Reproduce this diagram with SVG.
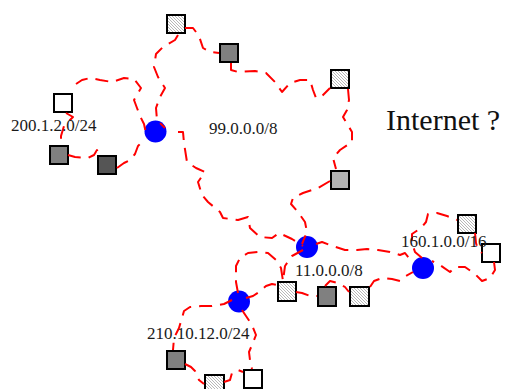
<svg xmlns="http://www.w3.org/2000/svg" width="506" height="389" viewBox="0 0 506 389">
<defs>
<pattern id="hatch" width="3" height="3" patternUnits="userSpaceOnUse">
<rect width="3" height="3" fill="#fff"/>
<path d="M-1,-1 L4,4 M-1,2 L1,4 M2,-1 L4,1" stroke="#999" stroke-width="0.7"/>
</pattern>
</defs>
<style>
.sq{stroke:#000;stroke-width:2}
.white{fill:#fff}
.hatch{fill:url(#hatch)}
.gray{fill:#808080}
.dark{fill:#555}
.light{fill:#b3b3b3}
.router{fill:#0000ff}
.link{fill:none;stroke:#ff0000;stroke-width:2;stroke-dasharray:13 8;stroke-linejoin:round;stroke-linecap:butt}
.lbl{font-family:"Liberation Serif","Times New Roman",serif;font-size:17px;fill:#1a1a1a}
.big{font-family:"Liberation Serif","Times New Roman",serif;font-size:30px;fill:#111}
</style>
<rect width="506" height="389" fill="#fff"/>

<g id="router-a"><circle class="router" cx="155.5" cy="131.5" r="11"/></g>
<g id="router-b"><circle class="router" cx="307" cy="247" r="11"/></g>
<g id="router-c"><circle class="router" cx="423" cy="268" r="11"/></g>
<g id="router-d"><circle class="router" cx="239" cy="301.5" r="11"/></g>

<g id="host-1"><rect class="sq hatch" x="167" y="15" width="18" height="18"/></g>
<g id="host-2"><rect class="sq gray" x="220" y="44" width="18" height="18"/></g>
<g id="host-3"><rect class="sq hatch" x="331" y="70" width="18" height="18"/></g>
<g id="host-4"><rect class="sq light" x="331" y="171" width="18" height="18"/></g>
<g id="host-5"><rect class="sq white" x="54" y="94" width="18" height="18"/></g>
<g id="host-6"><rect class="sq gray" x="50" y="146" width="18" height="18"/></g>
<g id="host-7"><rect class="sq dark" x="98" y="156" width="18" height="18"/></g>
<g id="host-8"><rect class="sq hatch" x="278" y="282" width="18" height="19"/></g>
<g id="host-9"><rect class="sq gray" x="318" y="287" width="18" height="19"/></g>
<g id="host-10"><rect class="sq hatch" x="350" y="287" width="19" height="19"/></g>
<g id="host-11"><rect class="sq hatch" x="458" y="215" width="18" height="18"/></g>
<g id="host-12"><rect class="sq white" x="482" y="244" width="18" height="18"/></g>
<g id="host-13"><rect class="sq gray" x="167" y="351" width="18" height="18"/></g>
<g id="host-14"><rect class="sq hatch" x="205" y="375" width="19" height="18"/></g>
<g id="host-15"><rect class="sq white" x="244" y="370" width="18" height="18"/></g>

<g id="connectors">
<path class="link" d="M185,28 L193,28 L199,36 L203,48 L210,52 L219,53"/>
<path class="link" d="M231,63 L231,70 L238,72 L255,71 L266,73 L275,82 L282,92 L290,83 L300,80 L310,80 L313,90 L316,98 L322,96 L330,88"/>
<path class="link" d="M348,89 L349,100 L347,110 L343,117 L352,132 L352,142 L340,150 L333,158 L336,169"/>
<path class="link" d="M330,181 L318,188 L303,193 L293,198 L291,204 L298,212 L305,222 L307,232 L302,244"/>
<path class="link" d="M178,35 L175,40 L163,47 L156,54 L154,67 L158,77 L165,88 L160,97 L156,108 L157,120 L165,128"/>
<path class="link" d="M76,84 L82,80 L90,78 L100,80 L112,82 L124,78 L134,79 L141,88 L134,100 L137,108 L140,116 L144,124 L147,138"/>
<path class="link" d="M66,113 L73,117 L64,126 L61,136 L61,145"/>
<path class="link" d="M68,155 L75,157 L88,158 L94,155 L97,150 L99,155"/>
<path class="link" d="M117,168 L124,163 L130,160 L135,154 L138,146 L145,139"/>
<path class="link" d="M178,132 L183,132 L184,143 L187,162 L196,168 L205,172 L198,182 L202,195 L208,202 L220,212 L223,218 L238,220 L248,217 L250,228 L260,237 L272,238 L279,233 L292,239 L303,246"/>
<path class="link" d="M316,244 L322,242 L330,245 L345,250 L357,250 L367,249 L378,250 L390,252 L400,255 L405,253 L412,262"/>
<path class="link" d="M422,258 L415,252 L412,243 L412,234 L421,228 L426,222 L428,214 L437,213 L447,216 L457,220"/>
<path class="link" d="M475,233 L476,243 L478,250 L482,253"/>
<path class="link" d="M494,262 L495,270 L490,278 L482,281 L475,274 L465,267 L455,267 L450,272 L440,265 L432,261"/>
<path class="link" d="M238,293 L236,282 L236,266 L240,258 L248,253 L258,252 L268,253 L276,260 L281,268 L283,281"/>
<path class="link" d="M303,250 L292,256 L285,266 L283,281"/>
<path class="link" d="M246,298 L253,296 L259,292 L266,286 L272,284 L277,285"/>
<path class="link" d="M296,292 L302,293 L310,296 L317,296"/>
<path class="link" d="M325,286 L330,281 L338,283 L345,287 L349,292"/>
<path class="link" d="M370,287 L374,281 L382,278 L392,279 L400,281 L406,276 L413,272"/>
<path class="link" d="M232,300 L224,304 L212,306 L201,306 L190,307 L184,311 L182,318 L179,328 L174,338 L173,350"/>
<path class="link" d="M185,364 L191,367 L195,371 L199,380 L204,384"/>
<path class="link" d="M224,382 L230,380 L232,373 L238,370 L243,372"/>
<path class="link" d="M242,310 L246,316 L252,325 L256,335 L252,345 L249,352 L250,360 L252,369"/>
</g>

<g id="labels">
<text class="lbl" x="11" y="131">200.1.2.0/24</text>
<text class="lbl" x="209" y="134">99.0.0.0/8</text>
<text class="big" x="386" y="130">Internet ?</text>
<text class="lbl" x="295" y="276">11.0.0.0/8</text>
<text class="lbl" x="401" y="247">160.1.0.0/16</text>
<text class="lbl" x="147" y="339">210.10.12.0/24</text>
</g>
</svg>
